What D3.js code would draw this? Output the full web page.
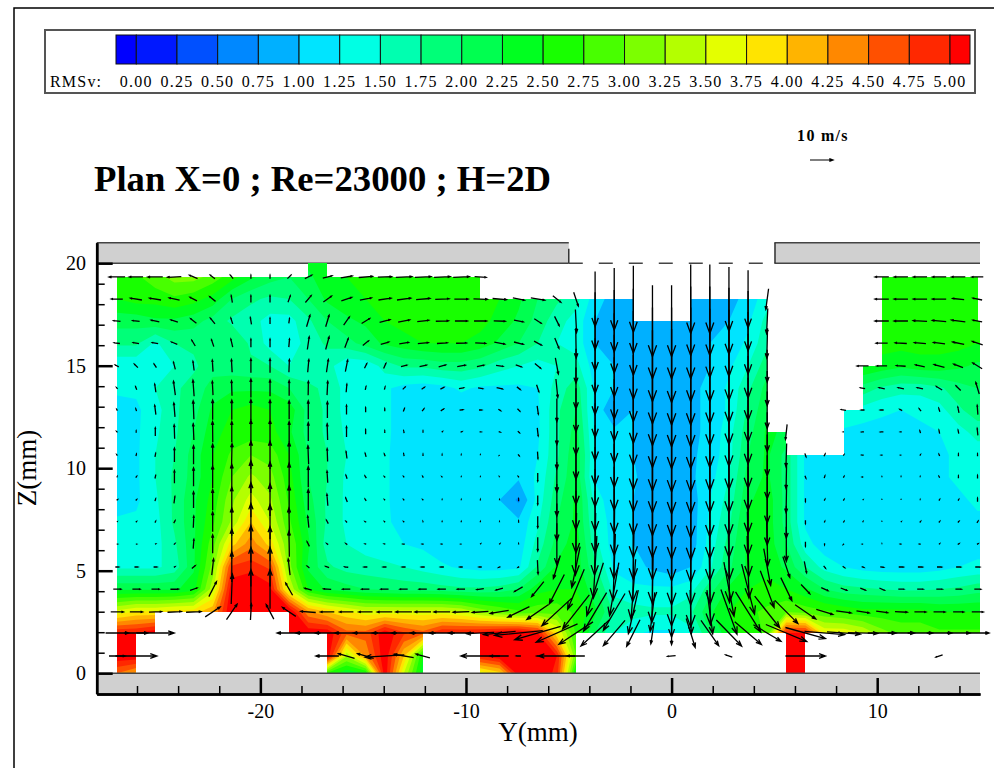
<!DOCTYPE html>
<html>
<head>
<meta charset="utf-8">
<title>Plan X=0</title>
<script src="https://cdn.jsdelivr.net/npm/d3@7"></script>
<style>
html, body { margin: 0; padding: 0; background: #fff; }
svg { display: block; }
text { font-family: "Liberation Serif", serif; fill: #000; }
</style>
</head>
<body>
<svg id="chart" width="994" height="768"></svg>
<script>
const _ = null;

// legend
const rmsLevels = [0,0.25,0.5,0.75,1,1.25,1.5,1.75,2,2.25,2.5,2.75,3,3.25,3.5,3.75,4,4.25,4.5,4.75,5];
const rmsColors = ["#0000ff","#0018ff","#0050ff","#0088ff","#00b0ff","#00e4ff","#00ffe4","#00ffb0","#00ff78","#00ff50","#00ff20",
  "#18ff00","#48ff00","#7cff00","#b4ff00","#e4ff00","#ffe400","#ffb400","#ff8800","#ff5000","#ff2800","#ff0000"];

// axes
const yTicksMajor = [-20,-10,0,10];
const yTicksMinor = [-26,-24,-22,-18,-16,-14,-12,-8,-6,-4,-2,2,4,6,8,12,14];
const zTicksMajor = [0,5,10,15,20];
const zTicksMinor = [1,2,3,4,6,7,8,9,11,12,13,14,16,17,18,19];

// measurement planes (mm)
const yNodes = [-26.97,-26.04,-25.11,-24.18,-23.25,-22.32,-21.39,-20.46,-19.53,-18.6,
  -17.67,-16.74,-15.81,-14.88,-13.95,-13.02,-12.09,-11.16,-10.23,-9.3,
  -8.37,-7.44,-6.51,-5.58,-4.65,-3.72,-2.79,-1.86,-0.93,0,
  0.93,1.86,2.79,3.72,4.65,5.58,6.51,7.44,8.37,9.3,
  10.23,11.16,12.09,13.02,13.95,14.88,15.81];
const zNodes = [20,19.33,18.25,17.18,16.1,14.99,13.9,12.84,11.77,10.64,9.57,8.45,7.38,6.3,5.18,4.1,2.99,1.96,0.84,0];

// RMSv, one line per z plane, top to bottom
const rmsRows = [
[_,_,_,_,_,_,_,_,_,_,2.3,2.4,_,_,_,_,_,_,_,_,_,_,_,_,_,_,_,_,_,_,_,_,_,_,_,_,_,_,_,_,_,_,_,_,_,_,_],
[2.6,2.7,2.9,3.1,3.1,2.9,2.6,2.3,2.1,2.0,2.2,2.4,2.5,2.6,2.6,2.6,2.6,2.6,2.6,2.7,_,_,_,_,_,_,_,_,_,_,_,_,_,_,_,_,_,_,_,_,2.6,2.6,2.6,2.6,2.6,2.6,_],
[2.5,2.6,2.6,2.7,2.6,2.4,2.0,1.8,1.7,1.75,2.0,2.3,2.4,2.5,2.6,2.6,2.6,2.6,2.6,2.6,2.5,2.3,2.0,1.8,1.6,1.1,0.9,0.9,_,_,0.9,0.9,0.9,1.1,1.4,_,_,_,_,_,2.5,2.6,2.6,2.6,2.6,2.6,_],
[2.1,2.1,2.2,2.2,2.1,1.9,1.7,1.6,1.4,1.4,1.7,2.0,2.2,2.3,2.5,2.6,2.6,2.6,2.6,2.6,2.4,2.2,1.9,1.6,1.4,1.0,0.9,1.0,0.9,0.9,0.9,0.9,1.0,1.2,1.6,_,_,_,_,_,2.5,2.6,2.6,2.6,2.6,2.6,2.6],
[1.8,1.8,1.45,1.75,1.8,1.8,2.0,1.7,1.4,1.35,1.6,1.8,1.9,2.1,2.3,2.4,2.5,2.5,2.5,2.4,2.2,2.0,1.75,1.5,1.4,1.0,0.9,1.0,0.95,0.9,0.9,1.0,1.1,1.3,1.7,_,_,_,_,_,2.6,2.6,2.6,2.6,2.6,2.5,2.5],
[1.3,1.3,1.45,1.5,1.7,1.9,1.85,1.8,1.75,1.5,1.6,1.6,1.3,1.3,1.6,1.8,1.8,1.9,1.9,1.8,1.6,1.5,1.4,1.5,1.6,1.1,1.0,0.9,0.95,0.95,0.9,1.0,1.2,1.5,1.9,_,_,_,_,2.5,2.4,2.3,2.4,2.4,2.3,2.2,2.2],
[1.3,1.3,1.5,1.7,1.85,2.1,2.2,2.2,2.2,2.0,1.8,1.7,1.4,1.3,1.3,1.15,1.1,1.15,1.3,1.2,1.2,1.2,1.25,1.6,1.9,1.2,1.0,0.95,0.9,0.85,0.95,1.05,1.3,1.7,2.1,_,_,_,_,1.9,1.7,1.6,1.6,1.7,1.9,2.0,2.0],
[1.15,1.2,1.4,1.7,1.9,2.3,2.5,2.6,2.5,2.4,1.9,1.7,1.4,1.35,1.3,1.15,1.05,1.05,1.05,1.05,1.05,1.1,1.2,1.7,2.0,1.15,0.8,1.0,0.85,0.8,0.95,1.05,1.3,1.8,2.2,_,_,_,1.5,1.4,1.3,1.25,1.3,1.4,1.7,1.9,1.9],
[1.1,1.2,1.45,1.7,2.0,2.4,2.6,2.6,2.6,2.3,1.9,1.7,1.45,1.35,1.3,1.15,1.05,1.05,1.05,1.05,1.05,1.05,1.2,1.7,2.1,1.2,1.05,1.0,0.85,0.8,0.95,1.05,1.4,1.9,2.3,2.2,_,_,1.2,1.15,1.15,1.15,1.2,1.25,1.4,1.6,1.6],
[1.1,1.2,1.5,1.75,2.1,2.5,2.8,3.0,2.9,2.5,2.0,1.75,1.5,1.35,1.3,1.1,1.0,1.05,1.05,1.05,1.05,1.05,1.25,1.7,2.2,1.25,1.1,1.0,0.9,0.8,0.95,1.1,1.4,2.0,2.3,1.9,1.2,1.1,1.05,1.05,1.05,1.05,1.15,1.2,1.3,1.35,1.35],
[1.1,1.2,1.5,1.8,2.1,2.5,3.0,3.3,3.1,2.6,2.0,1.75,1.45,1.35,1.3,1.1,1.05,1.05,1.05,1.05,1.05,1.05,1.3,1.8,2.2,1.2,1.1,1.05,0.8,0.8,0.95,1.15,1.5,2.1,2.3,1.9,1.2,1.05,1.05,1.05,1.05,1.05,1.1,1.2,1.3,1.35,1.35],
[1.1,1.2,1.45,1.8,2.2,2.6,3.2,3.6,3.3,2.7,2.1,1.7,1.45,1.35,1.3,1.1,1.05,1.0,1.0,1.0,1.0,0.7,1.35,1.9,2.3,1.4,1.05,1.0,0.85,0.8,0.85,1.25,1.6,2.2,2.4,1.9,1.2,1.05,1.05,1.05,1.05,1.05,1.05,1.1,1.2,1.3,1.3],
[1.3,1.3,1.4,1.8,2.2,2.7,3.3,4.0,3.5,2.8,2.2,1.7,1.45,1.35,1.3,1.15,1.05,1.05,1.05,1.05,1.05,1.05,1.45,2.0,2.3,1.5,1.1,1.0,0.85,0.8,0.85,1.3,1.7,2.3,2.4,1.9,1.2,1.05,1.05,1.05,1.05,1.05,1.05,1.05,1.1,1.2,1.2],
[1.35,1.35,1.4,1.7,2.2,2.9,3.9,4.4,3.9,3.0,2.3,1.6,1.5,1.4,1.35,1.25,1.2,1.05,1.05,1.05,1.05,1.1,1.6,2.1,2.4,1.6,1.1,1.0,0.85,0.8,0.85,1.35,1.85,2.3,2.4,2.0,1.35,1.1,1.05,1.05,1.05,1.05,1.05,1.05,1.1,1.15,1.15],
[1.45,1.45,1.45,1.6,2.2,3.1,4.8,4.9,4.7,3.1,2.2,1.8,1.65,1.6,1.55,1.5,1.4,1.3,1.2,1.15,1.15,1.2,1.8,2.3,2.4,1.8,1.2,1.1,0.95,0.85,1.0,1.45,1.95,2.3,2.4,2.2,1.75,1.4,1.25,1.15,1.1,1.1,1.1,1.15,1.25,1.3,1.3],
[2.2,2.2,2.2,2.2,2.4,3.4,5.2,5.3,5.1,3.5,2.5,2.2,2.1,2.0,1.95,1.9,1.9,1.85,1.8,1.8,1.85,2.0,2.4,2.5,2.5,2.1,1.4,1.3,1.3,1.3,1.4,1.9,2.3,2.5,2.6,2.5,2.3,2.0,1.85,1.8,1.75,1.7,1.7,1.75,1.8,1.9,1.9],
[3.6,3.8,3.8,3.9,3.9,4.2,5.3,5.5,5.5,5.3,4.3,4.0,3.8,3.6,3.6,3.6,3.6,3.6,3.5,3.2,3.0,2.8,2.9,2.9,2.7,2.3,1.7,1.6,1.55,1.55,1.7,2.2,2.5,2.7,2.8,3.0,2.9,2.8,2.7,2.6,2.6,2.6,2.6,2.5,2.5,2.5,2.5],
[5.0,5.0,5.2,_,_,_,_,_,_,5.3,5.2,5.2,4.6,4.6,5.2,4.8,4.6,5.0,5.0,5.1,5.2,5.3,5.0,3.8,2.7,2.0,1.5,1.3,1.2,1.2,1.4,2.0,2.4,2.6,2.8,5.0,5.0,3.7,3.7,3.5,3.1,2.9,2.9,2.8,2.8,2.8,2.8],
[5.2,5.2,_,_,_,_,_,_,_,_,_,5.2,3.3,4.3,5.2,4.0,2.5,_,_,5.0,5.2,5.3,5.3,5.0,3.0,_,_,_,_,_,_,_,_,_,_,5.3,5.3,_,_,_,_,_,_,_,_,_,_],
[4.5,4.2,_,_,_,_,_,_,_,_,_,2.7,2.3,2.5,5.2,3.5,2.3,_,_,3.6,3.9,5.2,5.3,4.9,2.4,_,_,_,_,_,_,_,_,_,_,5.3,5.3,_,_,_,_,_,_,_,_,_,_]
];

// velocity (m/s), planes z=19.33 .. z=0.84
const uRows = [
[-7,-6,-6.5,-6,-3.5,-2,-1.2,0,0,1.5,3,4,5,6,6,7,7,7,7,5,_,_,_,_,_,_,_,_,_,_,_,_,_,_,_,_,_,_,_,_,-6,-6,-6,-6,-6,-5],
[-5,-5,-5,-4.5,-3,-2.5,-0.5,0,0,1,2.5,3.5,4.5,5,5.5,6,6,6,6,6,6,5,6,3.5,2,0,0,0,_,_,0,0,0,0,-1.2,_,_,_,_,_,-6,-6,-6,-6,-5,-4],
[-3,-3,-3.5,-3,-2.5,-2,-0.8,-0.5,0,0.3,1.5,1.5,2.5,3.5,4.5,5,5,5.5,5.5,5.5,5,4,3,2,0.5,0,0,0,0,0,0,0,0,0,-0.5,_,_,_,_,_,-6,-6,-6,-6,-6,-4],
[-2.5,-2.5,-2.5,-2.5,-1.5,-1,-0.8,0,0,0.3,0.8,1.5,1.5,2.5,3.5,4,4.5,4.5,4.5,4.5,4.5,4,3.2,1.8,0.2,0,0,0,0,0,0,0,0,0,-0.3,_,_,_,_,_,-5,-5,-5,-5,-5,-4.5],
[-1.5,-1.5,-1,-0.8,-0.5,-0.3,-0.3,0,0,0.2,0.5,0.8,1,1,1,2.5,3,3,3.5,3,3,2.5,2.5,1.3,0,0,0,0,0,0,0,0,0,0,0,_,_,_,_,-5,-4.5,-4,-4,-4.5,-4,-4],
[-0.5,-0.5,-0.5,-0.8,-0.5,-0.3,-0.2,0,0,0,0.1,0.3,0.3,0.3,0.3,1,1.2,1.5,2,2,2.5,1.5,1,0.8,0,0,0,0,0,0,0,0,0,0,0,_,_,_,_,-2,-2.5,-2.5,-2.5,-2.5,-2,-1.5],
[-0.3,-0.3,-0.5,-0.5,-0.3,0,0,0,0,0,0,0,0,0,0,0.5,0.8,1.2,1.5,1.2,1,1,0.5,0,0,0,0,0,0,0,0,0,0,0,0,_,_,_,-2,-1.5,-1.5,-1,-0.8,-0.5,-0.5,-0.3],
[-0.4,0,0,-0.2,-0.3,-0.1,0,0,0,0,0,-0.2,0,0,0,-0.2,0,0.3,0.6,0.7,0.7,0.7,0.4,0,0,0,0,0,0,0,0,0,0,0,0,-0.7,_,_,-0.3,-1,-1.3,-0.6,-0.3,-0.3,-0.3,-0.3],
[-0.3,0.2,0.3,0,0,0,0.2,0,0,0,-0.3,-0.2,-0.4,-0.4,-0.4,-0.2,0,0,0,0,-0.1,0.5,0.2,0,0,0,0,0,0,0,0,0,0,0,0,-0.3,0.5,0.5,0.3,-0.8,-0.6,-0.3,0.3,-0.3,0,0],
[0.1,0.4,0.3,0,0,0,0,0,0,0,0,-0.3,-0.5,-0.6,-0.4,-0.3,-0.3,-0.3,0,0,-0.1,-0.3,0,0,0,0,0,0,0,0,0,0,0,0,0,-0.2,0.4,0.3,0.3,-0.4,0,0,0,-0.3,0,0],
[0.4,0.4,0.3,0.4,0,0,0,0,0,0,0,-0.4,-0.7,-0.5,-0.3,-0.3,-0.3,0,0,0,0,0,0,0,0,0,0,0,0,0,0,0,0,0,0,-0.2,0,0.3,0.3,0.1,0,0,0,0.3,0.3,0],
[0.1,0.3,0.3,0.6,0.2,0,0,0,0,-0.2,-0.5,-0.8,-0.5,-0.5,-0.3,-0.3,-0.1,0,0,0,0,0,0,0,0,0,0,0,0,0,0,0,0,0,0,0,0,0.2,0.3,0.2,0,0.2,0.4,0.4,0.5,0.5],
[0.3,0.3,0.3,0.5,0.3,0,0,0,0,-0.2,-1,-0.7,-0.7,-0.5,-0.5,-0.8,-0.6,-0.5,-0.3,0.2,0.3,0,0,0,-0.5,-0.5,-0.3,0,0,0,0,0,0.3,0.6,0.5,0,0,0,-0.3,-0.3,0,-0.5,-0.5,0.3,0.6,0.5],
[1.5,1.5,1.5,0.5,1.5,0.8,0,0,0,-0.8,-1,-1.5,-1.5,-1.5,-1.5,-1.5,-1.5,-1.5,-1.3,-1.2,-0.8,-0.5,0.3,-3,-3.6,-1.5,-1,-0.5,0,0,0,0.3,0.5,0.8,3,3,1,0.8,0.9,1,1.5,2,2,2,2,2],
[3.3,3.3,3.3,3.5,3,3.3,0.5,0,0,-3,-3,-3.3,-3.3,-3.3,-3.3,-3.3,-3.3,-3.3,-3.3,-3,-3,-3.5,-5.3,-6.5,-7.2,-7.2,-4,-2,-0.5,0,0,0.5,4.4,5.6,6,4.8,3.8,2.9,2.6,2.2,2.2,2.4,2.6,2.6,2.6,2.8],
[5.5,5.5,5.5,6,6.5,6.5,4.6,0.4,-3.3,-5.8,-6.5,-6,-6,-6,-6.5,-7,-7,-7,-7,-7,-8,-9.4,-9.4,-13,-11.6,-10,-9.4,-4.3,-2,0,0.5,2.5,7,10.9,10.9,10,9,7.2,6.5,5.5,5,5.3,5,5,4.6,5],
[10,10,16.5,_,_,_,_,_,_,-10.5,-10.7,-10.5,-10,-10.7,-10.7,-10.7,-11,-11,-11,-12,-14,-21,-20,-18,-14.8,-12.3,-9.4,-5.8,-1.4,0,3.9,7.7,11,11.6,12,17.8,17.4,17.4,14.5,13,12.3,11.6,10.9,10.9,10,10],
[7,18,_,_,_,_,_,_,_,_,_,-10,-7,-7,-17,-8.5,-6,_,_,-17,-8,-2,-1,-16,-7.7,_,_,_,_,-3.5,_,_,-2.9,_,_,_,17.4,_,_,_,_,_,_,-2.9,_,_]
];
const vRows = [
[0,0,0,-0.3,1.5,1.5,1.5,1.5,1.5,1.5,1.5,1,0.8,0.5,0.2,0.3,0.3,0.3,0.3,-0.3,_,_,_,_,_,_,_,_,_,_,_,_,_,_,_,_,_,_,_,_,0,0,0,0,0,0],
[0,0.8,0.8,1,1.5,2,3,3,3,2.8,3,2.5,1.5,1,0.8,0.8,0.5,0.2,0,-0.2,-0.5,-1,-1,-2.8,-6,-24,-27,-29,_,_,-30,-30,-28,-25,-9,_,_,_,_,_,0,0,0,0,0.5,0.8],
[0.3,0.4,0.8,1,2,2.5,2.5,3,2.5,2,5,5,3.5,2.2,1.2,1,0.6,0.2,0,0,-0.2,-0.8,-2,-4,-10,-25,-27,-28,-31,-31,-30,-30,-29,-26,-11,_,_,_,_,_,0,0,0.3,0.5,0.8,0.8],
[0.3,0.5,0.5,1,2.5,3,3.5,3.5,3.5,3.5,5.5,5.5,4,2,1,0.6,0.4,0.3,0.1,-0.2,-0.8,-1,-1.7,-4.4,-13,-24,-26,-28,-31,-31,-31,-30,-29,-27,-13,_,_,_,_,_,0,0.3,0.4,0.6,1,1.5],
[0.8,1.5,1.5,3,4,5,5.5,6,6,5.5,5.5,5.5,5,2,2.2,0.6,0.7,0.8,0.6,0.6,-0.4,-0.8,-2,-7,-15,-24,-27,-29,-31,-32,-31,-31,-30,-28,-14,_,_,_,_,0,0,0.3,0.8,1.2,1.5,2.5],
[0.6,1.2,3.5,6,7,6,6.5,8,7,6.5,6,6,3.5,1.5,1.2,1,0.8,0.8,0.3,-0.3,-0.6,-1.2,-3,-8,-18,-23,-27,-29,-31,-32,-32,-31,-30,-28,-15,_,_,_,_,0.4,0.5,0.5,0.5,1.5,2,5],
[0.5,1,4,6,8,8.5,8.5,9,8.5,8,8,7,4,2,1.2,1.3,1,0.8,0.2,0,-0.6,-1,-3.5,-10,-19,-24,-27,-29,-31,-32,-32,-31,-30,-28,-16,_,_,_,0.3,0,0,0.5,1,1.5,2.5,4],
[0.4,0.8,3.5,6,7,9,9,10,10,9,8,7,4.5,2,1,1,0.8,0.3,0.3,0,-0.2,-0.7,-3.5,-11,-20,-25,-27,-29,-31,-32,-32,-31,-30,-28,-17,-6.5,_,_,0,0,0,0,1,1.5,1.5,3],
[0.4,0.8,1.5,6,8,9.5,10,12,12,11,8,5.5,3,1.5,1,1,0.7,0.5,0.3,0.2,-0.1,-0.6,-3,-12,-21,-26,-28,-30,-31,-32,-32,-31,-30,-29,-18,-10,-1.5,1,0.5,0,0,0,0.5,0.8,1,1],
[0.3,0.6,1.3,5.5,8,9.5,11,14,13,12,9,5,1.5,1,0.4,0.4,0.5,0.3,0.2,0.2,0.2,0.4,-3.5,-13,-24,-26,-29,-30,-31,-32,-32,-31,-31,-29,-19,-10,-1,1,0.5,0,0.2,0.3,0.3,0.6,1,1.3],
[0.3,0.4,1,3,7,9,11,15,14,12,9,5,1.8,0.8,0.3,0.4,0.3,0.3,0.2,0.4,0.3,1,-4,-14,-26,-27,-29,-30,-31,-32,-33,-32,-31,-29,-20,-11,-1.5,0.6,0.5,0.1,0.1,0.1,0.2,0.5,0.5,1.5],
[0.1,0.3,0.6,1.1,5,8.5,12,16,15,12,5,1.5,0.5,0.3,0.3,0.3,0.4,0.3,0.3,0.3,0.2,0.8,-5,-16,-27,-27,-29,-31,-31,-32,-33,-32,-31,-29,-20,-14,-1.5,0.5,0.5,0.3,0.1,0.2,0.5,0.5,0.5,0.8],
[0,0,0.1,0.5,4,8,13,16,15,11,2,0.5,0.5,0.1,0.1,0,0,0,0,0.2,0.3,0.3,-6,-18,-27,-27,-30,-31,-31,-32,-33,-32,-31,-28,-19,-15,-2,-0.7,-0.3,0,0.1,0,0,0.3,0.4,0.3],
[0,0,0,0.3,1.2,7,13,17,17,7,0.8,0.5,0.2,0,0,0,0,0,0,0,-0.4,-0.3,-6,-10,-17.7,-27,-29,-30,-32,-33,-33,-32,-31,-27,-16,-9,-5,-1,-0.6,-0.4,-0.2,0,0,0,0,0],
[0,0,0,0.1,1,6.5,13,17,17,5.3,0.8,0.2,0,0,0,0,0,0,0,-0.4,-0.8,-2,-6.5,-12.8,-17.4,-23,-23,-26,-29,-32,-33,-31,-23.5,-21.7,-16,-10,-4,-1.3,-1,-0.9,-1,0,0,0,0,0],
[0,0,0.2,0.3,0.3,4.3,6.7,7,6.3,3.9,0.5,0,0,0,0,0,0,0,-0.3,-0.5,-1.3,-4.6,-6.5,-12,-14.8,-16.7,-16,-19,-17,-22,-19,-19,-19.4,-17.4,-13.8,-10,-6.2,-2.2,-0.9,-0.9,-0.7,-0.3,0,0,0,0],
[0,0,0,_,_,_,_,_,_,0,0,0,0,0,0,0,0,0,0,-0.5,-1.4,-2,-5.8,-8,-9.7,-11.3,-11,-11.6,-9.4,-10,-12.6,-11,-11.3,-9.9,-7.2,-7.4,-4.8,-1.4,-1,-0.3,0,0,0,0,0,0],
[0,0,_,_,_,_,_,_,_,_,_,0,2,2,-1,1.5,1.7,_,_,0,0,0,0,0,0,_,_,_,_,-0.3,_,_,1,_,_,_,0,_,_,_,_,_,_,-1,_,_]
];

var svg = d3.select("#chart");

var xScale = d3.scaleLinear().domain([-27.96, 15]).range([96.7, 980]);
var yScale = d3.scaleLinear().domain([-1, 21]).range([693.7, 242.7]);
var arrowScale = d3.scaleLinear().domain([0, 10]).range([0, 23]);

// outer page frame
svg.append("path").attr("d", "M14,768V8H994").attr("fill", "none").attr("stroke", "#000").attr("stroke-width", 1.5);

// legend
var legendX = d3.scaleLinear().domain([0, 5]).range([136.3, 950]);
var legend = svg.append("g");
legend.append("rect").attr("x", 45).attr("y", 30).attr("width", 930).attr("height", 63)
  .attr("fill", "#fff").attr("stroke", "#555").attr("stroke-width", 2);
legend.selectAll("rect.cell").data(rmsColors).enter().append("rect")
  .attr("class", "cell")
  .attr("x", function(d, i) { return i == 0 ? 116 : legendX(rmsLevels[i - 1]); })
  .attr("width", function(d, i) {
    if (i == 0) return legendX(0) - 116;
    if (i == rmsColors.length - 1) return 970 - legendX(5);
    return legendX(rmsLevels[i]) - legendX(rmsLevels[i - 1]);
  })
  .attr("y", 35).attr("height", 29)
  .attr("fill", function(d) { return d; })
  .attr("stroke", "#111").attr("stroke-width", 1);
legend.selectAll("text.lab").data(rmsLevels).enter().append("text")
  .attr("class", "lab")
  .attr("x", function(d) { return legendX(d); })
  .attr("y", 87).attr("text-anchor", "middle")
  .attr("font-size", 16).attr("letter-spacing", 1.3)
  .text(function(d) { return d.toFixed(2); });
legend.append("text").attr("x", 50).attr("y", 87).attr("font-size", 16).attr("letter-spacing", 1.2).text("RMSv:");

// title + reference arrow
svg.append("text").attr("x", 94).attr("y", 191).attr("font-size", 36.7).attr("font-weight", "bold")
  .text("Plan X=0 ; Re=23000 ; H=2D");
svg.append("text").attr("x", 823).attr("y", 141).attr("text-anchor", "middle").attr("font-size", 16)
  .attr("letter-spacing", 1.3).attr("font-weight", "bold").text("10 m/s");

function arrowPath(cx, cy, dx, dy) {
  var len = Math.sqrt(dx * dx + dy * dy);
  if (len == 0) return "";
  var tx = cx - dx / 2, ty = cy - dy / 2, hx = cx + dx / 2, hy = cy + dy / 2;
  var h = 0.17 * len, a = Math.atan2(dy, dx), w = 20 * Math.PI / 180;
  return "M" + tx + "," + ty + "L" + hx + "," + hy
    + "M" + (hx - h * Math.cos(a - w)) + "," + (hy - h * Math.sin(a - w))
    + "L" + hx + "," + hy
    + "L" + (hx - h * Math.cos(a + w)) + "," + (hy - h * Math.sin(a + w));
}
svg.append("path").attr("d", arrowPath(821.5, 160, arrowScale(10), 0))
  .attr("fill", "none").attr("stroke", "#000").attr("stroke-width", 1.2);

// walls
var walls = [[-27.96, -5, 20, 21], [5, 15, 20, 21], [-27.96, 15, -1, 0]];
svg.selectAll("rect.wall").data(walls).enter().append("rect")
  .attr("class", "wall")
  .attr("x", function(d) { return xScale(d[0]); })
  .attr("width", function(d) { return xScale(d[1]) - xScale(d[0]); })
  .attr("y", function(d) { return yScale(d[3]); })
  .attr("height", function(d) { return yScale(d[2]) - yScale(d[3]); })
  .attr("fill", "#d0d0d0");
svg.selectAll("path.wallline").data([[-27.96, -5, 21], [5, 15, 21], [-27.96, -5, 20], [5, 15, 20]]).enter().append("path")
  .attr("class", "wallline")
  .attr("d", function(d) { return "M" + xScale(d[0]) + "," + yScale(d[2]) + "H" + xScale(d[1]); })
  .attr("stroke", "#444").attr("stroke-width", 1.5);
svg.append("path").attr("d", "M" + xScale(-5) + "," + yScale(20) + "V" + yScale(20.7)
    + "M" + xScale(5.03) + "," + yScale(20) + "V" + yScale(21))
  .attr("stroke", "#333").attr("stroke-width", 1.5);
svg.append("line").attr("x1", xScale(-5)).attr("x2", xScale(5))
  .attr("y1", yScale(20)).attr("y2", yScale(20))
  .attr("stroke", "#444").attr("stroke-width", 1.5).attr("stroke-dasharray", "14,16");

// field: cells with four measured corners are visible
var nx = yNodes.length, ny = zNodes.length;
var clip = svg.append("clipPath").attr("id", "fieldClip");
for (var j = 0; j < ny - 1; j++) {
  for (var i = 0; i < nx - 1; i++) {
    if (rmsRows[j][i] == null || rmsRows[j][i + 1] == null || rmsRows[j + 1][i] == null || rmsRows[j + 1][i + 1] == null) continue;
    // whole pixels, otherwise hairlines show between cells
    var x0 = Math.round(xScale(yNodes[i])), x1 = Math.round(Math.min(xScale(yNodes[i + 1]), xScale.range()[1]));
    var y0 = Math.round(yScale(zNodes[j])), y1 = Math.round(yScale(zNodes[j + 1]));
    clip.append("rect").attr("x", x0).attr("y", y0).attr("width", x1 - x0).attr("height", y1 - y0);
  }
}

// unmeasured nodes take the closest value on the row so contours stay continuous, then pad one ring
function filled(row) {
  return row.map(function(v, i) {
    if (v != null) return v;
    for (var d = 1; d < row.length; d++) {
      if (row[i - d] != null) return row[i - d];
      if (row[i + d] != null) return row[i + d];
    }
    return 0;
  });
}
var rowsFilled = rmsRows.map(filled);
var px = nx + 2, py = ny + 2, grid = new Array(px * py);
for (var gy = 0; gy < py; gy++) {
  for (var gx = 0; gx < px; gx++) {
    var ry = Math.max(0, Math.min(ny - 1, gy - 1)), rx = Math.max(0, Math.min(nx - 1, gx - 1));
    grid[gy * px + gx] = rowsFilled[ry][rx];
  }
}
var colPos = d3.scaleLinear().domain(d3.range(nx)).range(yNodes.map(function(d) { return xScale(d); }));
var rowPos = d3.scaleLinear().domain(d3.range(ny)).range(zNodes.map(function(d) { return yScale(d); }));
var path = d3.geoPath(d3.geoTransform({
  point: function(x, y) { this.stream.point(colPos(x - 1.5), rowPos(y - 1.5)); }
}));
var contours = d3.contours().size([px, py]).thresholds(rmsLevels)(grid);

var field = svg.append("g").attr("clip-path", "url(#fieldClip)");
field.append("rect").attr("x", 96).attr("y", 240).attr("width", 900).attr("height", 460).attr("fill", rmsColors[0]);
field.selectAll("path").data(contours).enter().append("path")
  .attr("d", path)
  .attr("fill", function(d, i) { return rmsColors[i + 1]; });

// bottom wall line sits above the field
svg.append("path").attr("d", "M" + xScale(-27.96) + "," + yScale(0) + "H" + xScale(15))
  .attr("stroke", "#444").attr("stroke-width", 1.5);

// vectors
var vectors = [];
uRows.forEach(function(row, r) {
  row.forEach(function(u, c) {
    if (u == null || vRows[r][c] == null) return;
    vectors.push({ y: yNodes[c], z: zNodes[r + 1], u: u, v: vRows[r][c] });
  });
});
svg.append("g").selectAll("path").data(vectors).enter().append("path")
  .attr("d", function(d) {
    return arrowPath(xScale(d.y), yScale(d.z),
      d.u < 0 ? -arrowScale(-d.u) : arrowScale(d.u),
      d.v < 0 ? arrowScale(-d.v) : -arrowScale(d.v));
  })
  .attr("fill", "none").attr("stroke", "#000").attr("stroke-width", 1.3);

// axes
var xMajor = d3.axisBottom(xScale).tickValues(yTicksMajor).tickSizeInner(-16).tickSizeOuter(0).tickPadding(10)
  .tickFormat(function(d) { return d == 0 ? "0" : d3.format("d")(d).replace("\u2212", "-"); });
var xMinor = d3.axisBottom(xScale).tickValues(yTicksMinor).tickSizeInner(-8).tickSizeOuter(0).tickFormat("");
var yMajor = d3.axisLeft(yScale).tickValues(zTicksMajor).tickSizeInner(-16).tickSizeOuter(0).tickPadding(10.7);
var yMinor = d3.axisLeft(yScale).tickValues(zTicksMinor).tickSizeInner(-8).tickSizeOuter(0).tickFormat("");

var gx0 = svg.append("g").attr("transform", "translate(0,694)");
var gxMinor = gx0.append("g").call(xMinor);
var gxMajor = gx0.append("g").call(xMajor);
var gy0 = svg.append("g").attr("transform", "translate(96.7,0)");
var gyMinor = gy0.append("g").call(yMinor);
var gyMajor = gy0.append("g").call(yMajor);
svg.selectAll(".domain").attr("stroke", "#000").attr("stroke-width", 2.5);
[gxMinor, gyMinor].forEach(function(g) { g.selectAll(".tick line").attr("stroke", "#000").attr("stroke-width", 1.5); });
[gxMajor, gyMajor].forEach(function(g) { g.selectAll(".tick line").attr("stroke", "#000").attr("stroke-width", 2.5); });
svg.selectAll(".tick text").attr("font-family", "Liberation Serif").attr("font-size", 20).attr("fill", "#000");

svg.append("text").attr("x", 538).attr("y", 741).attr("text-anchor", "middle").attr("font-size", 27).text("Y(mm)");
svg.append("text").attr("transform", "translate(36,468) rotate(-90)").attr("text-anchor", "middle")
  .attr("font-size", 27).text("Z(mm)");
</script>
</body>
</html>
